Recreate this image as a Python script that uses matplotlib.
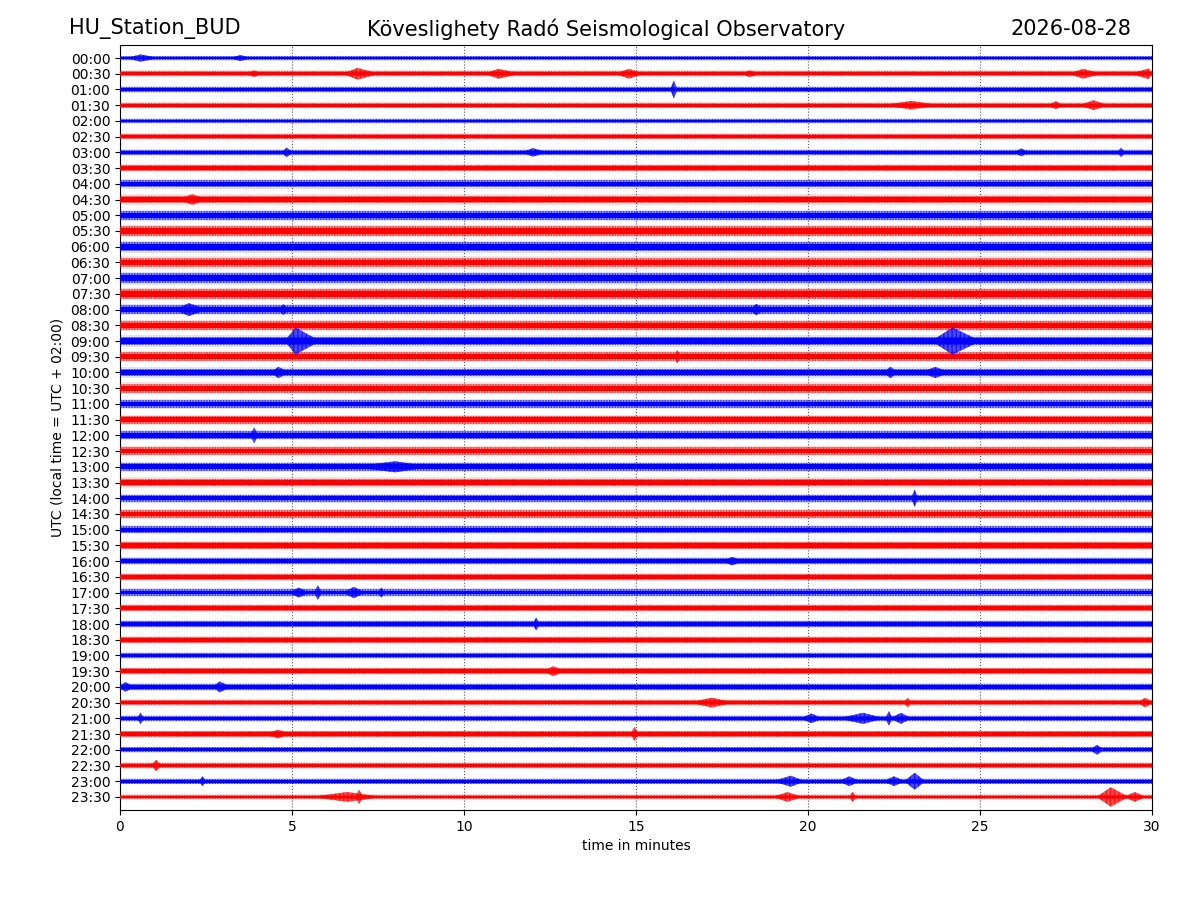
import matplotlib
matplotlib.use("Agg")
import matplotlib.pyplot as plt

row_labels = [f"{h:02d}:{m:02d}" for h in range(24) for m in (0, 30)]

# half width of the background noise band of each row (in row units)
noise_level = [0.12, 0.16, 0.16, 0.15, 0.15, 0.16, 0.18, 0.20,
               0.23, 0.25, 0.28, 0.30, 0.30, 0.30, 0.32, 0.30,
               0.28, 0.28, 0.28, 0.28, 0.25, 0.28, 0.25, 0.25,
               0.25, 0.25, 0.25, 0.25, 0.23, 0.25, 0.23, 0.23,
               0.20, 0.20, 0.20, 0.20, 0.18, 0.20, 0.18, 0.18,
               0.18, 0.16, 0.18, 0.17, 0.15, 0.15, 0.15, 0.15]

# bursts / spikes: row index, start, peak, end (minutes), half amplitude
ev_row = [0, 0,
          1, 1, 1, 1, 1, 1, 1,
          2,
          3, 3, 3,
          6, 6, 6, 6,
          9,
          16, 16, 16,
          18, 18,
          19,
          20, 20, 20,
          24, 26, 28, 32,
          34, 34, 34, 34,
          36, 39,
          40, 40,
          41, 41, 41,
          42, 42, 42, 42, 42,
          43, 43, 44, 45,
          46, 46, 46, 46, 46,
          47, 47, 47, 47, 47, 47]
ev_start = [0.2, 3.2,
            3.7, 6.5, 10.6, 14.4, 18.1, 27.6, 29.4,
            16.0,
            22.2, 27.0, 27.9,
            4.7, 11.7, 26.0, 29.0,
            1.7,
            1.6, 4.6, 18.3,
            4.8, 23.6,
            16.1,
            4.4, 22.2, 23.3,
            3.8, 6.8, 23.0, 17.5,
            4.9, 5.65, 6.5, 7.5,
            12.0, 12.3,
            0.0, 2.7,
            16.6, 22.8, 29.6,
            0.5, 19.8, 20.9, 22.25, 22.4,
            4.2, 14.85, 28.2, 0.9,
            2.3, 19.0, 20.9, 22.2, 22.8,
            5.6, 6.85, 19.0, 21.2, 28.4, 29.2]
ev_peak = [0.6, 3.5,
           3.9, 6.9, 11.0, 14.8, 18.3, 28.0, 29.9,
           16.1,
           23.0, 27.2, 28.3,
           4.85, 12.0, 26.2, 29.1,
           2.1,
           2.0, 4.75, 18.5,
           5.1, 24.2,
           16.2,
           4.6, 22.4, 23.7,
           3.9, 8.0, 23.1, 17.8,
           5.2, 5.75, 6.8, 7.6,
           12.1, 12.6,
           0.15, 2.9,
           17.2, 22.9, 29.8,
           0.6, 20.1, 21.6, 22.35, 22.7,
           4.6, 14.95, 28.4, 1.05,
           2.4, 19.5, 21.2, 22.5, 23.1,
           6.6, 6.95, 19.4, 21.3, 28.8, 29.5]
ev_end = [1.1, 3.8,
          4.1, 7.5, 11.6, 15.2, 18.6, 28.5, 30.0,
          16.2,
          23.8, 27.4, 28.7,
          5.0, 12.4, 26.4, 29.2,
          2.5,
          2.5, 4.9, 18.7,
          5.8, 25.0,
          16.3,
          4.9, 22.6, 24.1,
          4.0, 9.0, 23.2, 18.1,
          5.5, 5.85, 7.1, 7.7,
          12.2, 12.9,
          0.4, 3.2,
          17.8, 23.0, 30.0,
          0.7, 20.4, 22.2, 22.45, 23.0,
          4.9, 15.05, 28.6, 1.2,
          2.5, 19.9, 21.5, 22.8, 23.4,
          7.6, 7.05, 19.8, 21.4, 29.3, 29.8]
ev_amp = [0.22, 0.18,
          0.20, 0.36, 0.30, 0.30, 0.20, 0.30, 0.32,
          0.55,
          0.26, 0.24, 0.30,
          0.30, 0.26, 0.24, 0.29,
          0.32,
          0.40, 0.33, 0.35,
          0.85, 0.85,
          0.40,
          0.35, 0.35, 0.34,
          0.50, 0.34, 0.52, 0.26,
          0.30, 0.45, 0.35, 0.30,
          0.40, 0.30,
          0.30, 0.34,
          0.30, 0.30, 0.30,
          0.34, 0.30, 0.34, 0.44, 0.34,
          0.26, 0.44, 0.30, 0.34,
          0.30, 0.34, 0.30, 0.30, 0.52,
          0.30, 0.44, 0.30, 0.30, 0.60, 0.30]

STATION = "HU_Station_BUD"
OBSERVATORY = "Köveslighety Radó Seismological Observatory"
DAY = "2026-08-28"
TRACE_COLORS = ["#0000ff", "#ff0000"]
MINUTES = 30

# ── Plot ──────────────────────────────────────────────────────────────
fig = plt.figure(figsize=(12, 9), dpi=100)
ax = fig.add_axes([0.1, 0.1, 0.86, 0.85])

for i, (label, a) in enumerate(zip(row_labels, noise_level)):
    color = TRACE_COLORS[i % 2]
    # faint spike halo, striated wiggle zone, dense core
    ax.fill_between([0, MINUTES], i - 1.3 * a, i + 1.3 * a, color=color,
                    alpha=0.12, linewidth=0, zorder=3)
    ax.fill_between([0, MINUTES], i - a, i + a, facecolor="none",
                    edgecolor=color, hatch="||||||", alpha=0.6,
                    linewidth=0, zorder=3)
    ax.fill_between([0, MINUTES], i - a, i + a, color=color, alpha=0.3,
                    linewidth=0, zorder=3)
    ax.fill_between([0, MINUTES], i - 0.6 * a, i + 0.6 * a, color=color,
                    linewidth=0, zorder=3)

for r, t0, tp, t1, a in zip(ev_row, ev_start, ev_peak, ev_end, ev_amp):
    color = TRACE_COLORS[r % 2]
    ax.fill([t0, tp, t1, tp], [r, r - a, r, r + a], facecolor=color,
            edgecolor=color, hatch="||||", alpha=0.7, linewidth=0.3, zorder=4)

ax.set_xlim(0, MINUTES)
ax.set_ylim(len(row_labels) - 1 + 0.83, -0.83)
ax.set_xticks(range(0, MINUTES + 1, 5))
ax.set_yticks(range(len(row_labels)))
ax.set_yticklabels(row_labels)
ax.grid(axis="x", linestyle=":", color="0.35", linewidth=0.8, zorder=1)
ax.set_axisbelow(True)
ax.set_xlabel("time in minutes")
ax.set_ylabel("UTC (local time = UTC + 02:00)")

fig.text(69 / 1200, 0.968, STATION, fontsize=15, ha="left", va="center")
fig.text(0.505, 0.968, OBSERVATORY, fontsize=15, ha="center", va="center")
fig.text(1131 / 1200, 0.968, DAY, fontsize=15, ha="right", va="center")

fig.savefig("out.png", dpi=100)
